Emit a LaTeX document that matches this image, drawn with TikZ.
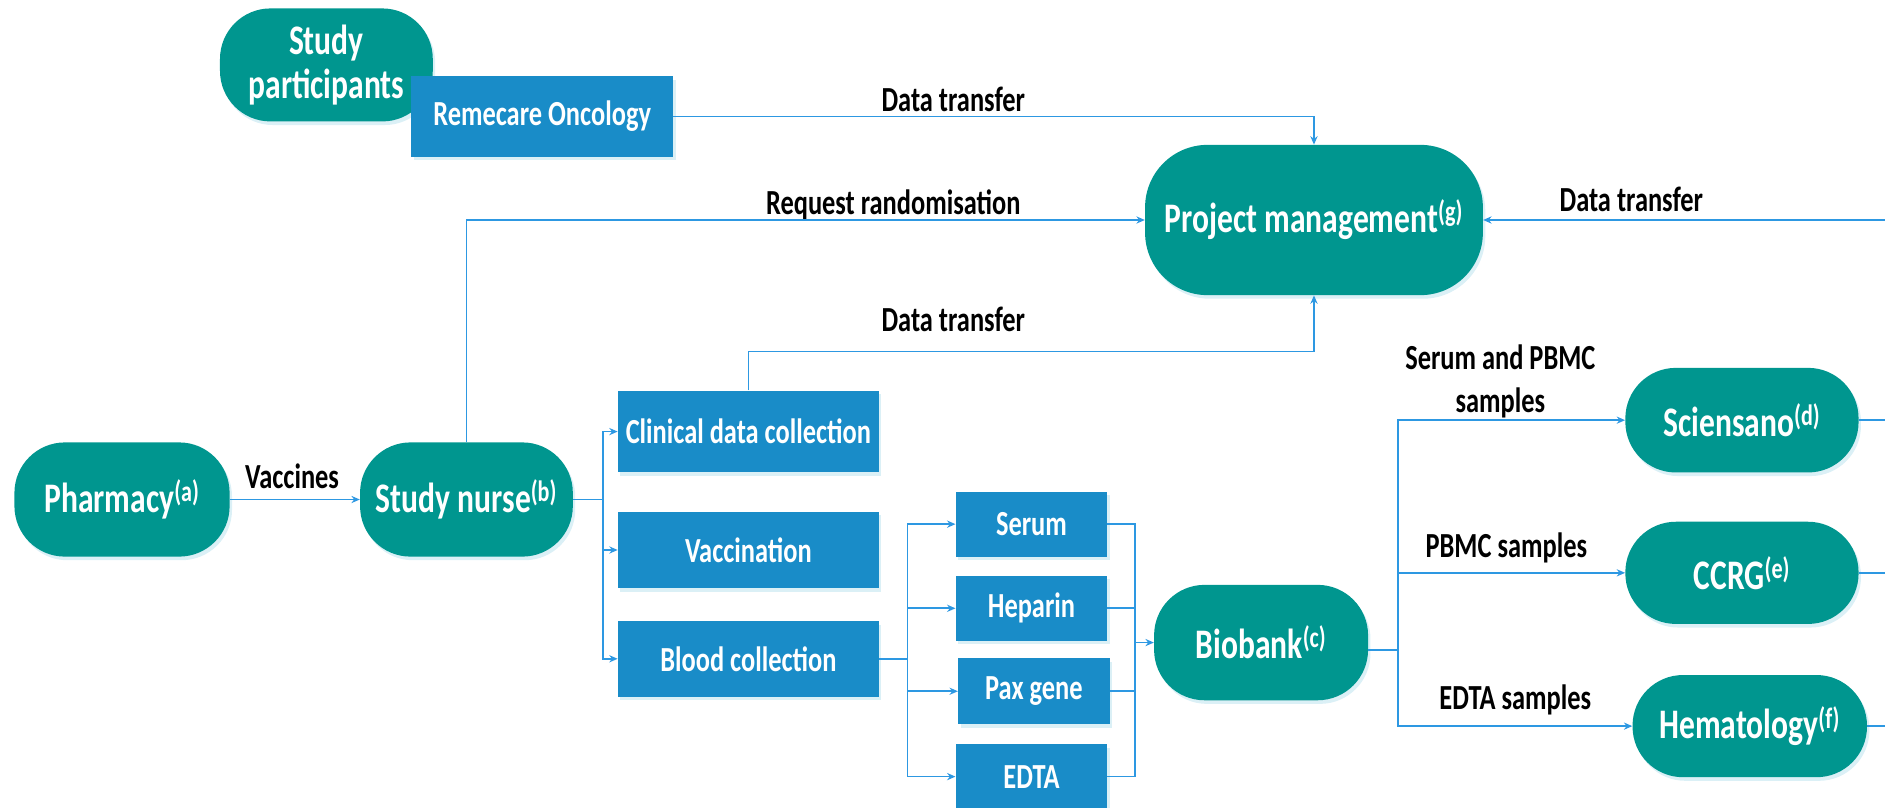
\documentclass[tikz,border=0pt]{standalone}
\usepackage{fontspec}
\setmainfont[FakeStretch=0.75]{Carlito}
\usetikzlibrary{arrows.meta,shadows}
\definecolor{tealbg}{RGB}{0,150,143}
\definecolor{bluebg}{RGB}{25,140,200}
\definecolor{linec}{RGB}{45,152,226}
\definecolor{shadowc}{RGB}{215,238,245}
\tikzset{
  shd/.style={drop shadow={shadow xshift=2pt,shadow yshift=-3pt,fill=shadowc,opacity=0.9}},
  tealbox/.style={shd,fill=tealbg, text=white, font=\fontsize{35}{36}\selectfont\bfseries,
    rounded corners=42pt, align=center, inner sep=0pt},
  bluebox/.style={shd,fill=bluebg, text=white, font=\fontsize{29.3}{30}\selectfont\bfseries,
    align=center, inner sep=0pt},
  lbl/.style={font=\fontsize{29.3}{35.5}\selectfont\bfseries, text=black, align=center, inner sep=0pt},
  conn/.style={draw=linec, line width=1.4pt, -{Stealth[length=7pt,width=6pt]}},
  plainline/.style={draw=linec, line width=1.4pt},
}
\begin{document}
\begin{tikzpicture}[x=1pt,y=-1pt]
\useasboundingbox (0,0) rectangle (1568,672);
\begin{scope}
\clip (0,0) rectangle (1568,672);
% teal nodes
\node[tealbox, minimum width=177pt, minimum height=94pt] (sp) at (271.5,54) {Study\\participants};
\node[bluebox, minimum width=218pt, minimum height=67pt] (rem) at (451,97) {Remecare Oncology};
\node[tealbox, minimum width=281pt, minimum height=125pt, rounded corners=52pt] (pm) at (1093,183) {Project management\textsuperscript{(g)}};
\node[tealbox, minimum width=179pt, minimum height=95pt] (ph) at (101.5,415.5) {Pharmacy\textsuperscript{(a)}};
\node[tealbox, minimum width=177pt, minimum height=95pt] (sn) at (388,415.5) {Study nurse\textsuperscript{(b)}};
\node[bluebox, minimum width=217pt, minimum height=68pt] (cdc) at (622.5,359) {Clinical data collection};
\node[bluebox, minimum width=217pt, minimum height=64pt] (vac) at (622.5,457.5) {Vaccination};
\node[bluebox, minimum width=217pt, minimum height=63pt] (blood) at (622.5,548) {Blood collection};
\node[bluebox, minimum width=126pt, minimum height=54pt] (serum) at (858,436) {Serum};
\node[bluebox, minimum width=126pt, minimum height=54pt] (hep) at (858,506) {Heparin};
\node[bluebox, minimum width=126pt, minimum height=55pt] (pax) at (860,575) {Pax gene};
\node[bluebox, minimum width=126pt, minimum height=54pt] (edta) at (858,646) {EDTA};
\node[tealbox, minimum width=178pt, minimum height=96pt] (bio) at (1049,534.5) {Biobank\textsuperscript{(c)}};
\node[tealbox, minimum width=194pt, minimum height=87pt] (sci) at (1449,349.5) {Sciensano\textsuperscript{(d)}};
\node[tealbox, minimum width=194pt, minimum height=85pt] (ccrg) at (1449,476.5) {CCRG\textsuperscript{(e)}};
\node[tealbox, minimum width=195pt, minimum height=85pt] (hem) at (1455.5,604) {Hematology\textsuperscript{(f)}};
% labels
\node[lbl] (l1) at (793,83) {Data transfer};
\node[lbl] (l2) at (743,170.5) {Request randomisation};
\node[lbl] (l3) at (1357,166) {Data transfer};
\node[lbl] (l4) at (793,266) {Data transfer};
\node[lbl] (l5) at (243,396.5) {Vaccines};
\node[lbl] (l6) at (1248,317) {Serum and PBMC\\samples};
\node[lbl] (l7) at (1253,456) {PBMC samples};
\node[lbl] (l8) at (1260.5,582) {EDTA samples};
% coordinates
\coordinate (rin) at (1568,183);
\coordinate (b1) at (501.5,415.5);
\coordinate (b2) at (755,548);
\coordinate (b3) at (944,534.5);
\coordinate (b4) at (1163,540.5);
\coordinate (o1) at (1568,349.5);
\coordinate (o2) at (1568,476.5);
\coordinate (o3) at (1568,604);
% connectors
\draw[conn] (rem.east) -| (pm.north);
\draw[conn] (sn.north) |- (pm.west);
\draw[conn] (rin) -- (pm.east);
\draw[conn] (cdc.north) -- ++(0,-32.5) -| (pm.south);
\draw[conn] (ph.east) -- (sn.west);
\draw[conn] (sn.east) -- (b1) |- (cdc.west);
\draw[conn] (sn.east) -- (b1) |- (vac.west);
\draw[conn] (sn.east) -- (b1) |- (blood.west);
\draw[conn] (blood.east) -- (b2) |- (serum.west);
\draw[conn] (blood.east) -- (b2) |- (hep.west);
\draw[conn] (blood.east) -- (b2) |- (pax.west);
\draw[conn] (blood.east) -- (b2) |- (edta.west);
\draw[plainline] (serum.east) -| (b3);
\draw[plainline] (hep.east) -| (b3);
\draw[plainline] (pax.east) -| (b3);
\draw[plainline] (edta.east) -| (b3);
\draw[conn] (b3) -- (bio.west);
\draw[conn] ([yshift=-6pt]bio.east) -- (b4) |- (sci.west);
\draw[conn] ([yshift=-6pt]bio.east) -- (b4) |- (ccrg.west);
\draw[conn] ([yshift=-6pt]bio.east) -- (b4) |- (hem.west);
\draw[plainline] (sci.east) -- (o1);
\draw[plainline] (ccrg.east) -- (o2);
\draw[plainline] (hem.east) -- (o3);
\end{scope}
\end{tikzpicture}
\end{document}
